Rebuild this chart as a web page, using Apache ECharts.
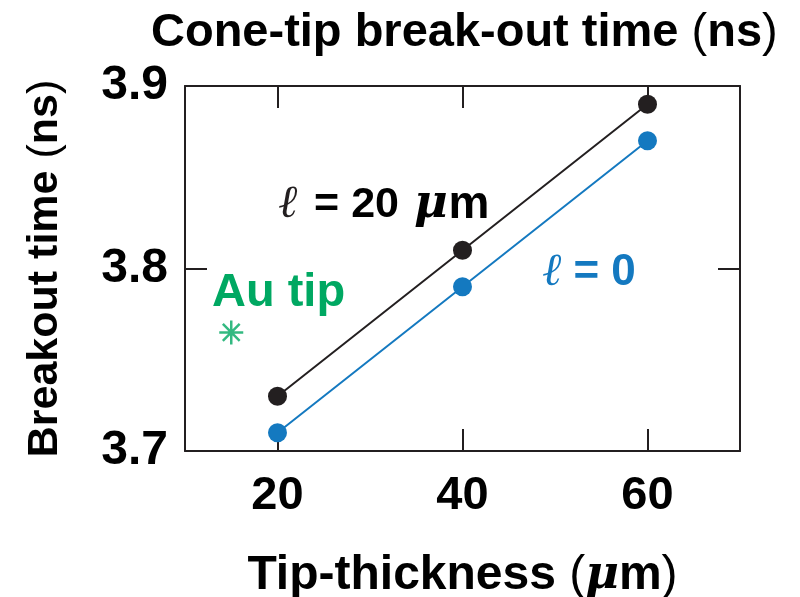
<!DOCTYPE html>
<html>
<head>
<meta charset="utf-8">
<script src="https://cdn.jsdelivr.net/npm/echarts@6/dist/echarts.min.js"></script>
<style>
  html, body { margin: 0; padding: 0; background: #fff; }
  #chart { width: 800px; height: 597px; }
</style>
</head>
<body>
<div id="chart"></div>
<script>
// Tip thickness (µm) and breakout times (ns)
const thickness = [20, 40, 60];
const breakoutL20 = [3.73, 3.81, 3.89];   // ℓ = 20 µm
const breakoutL0 = [3.71, 3.79, 3.87];    // ℓ = 0
const auTip = [[15, 3.765]];              // Au tip reference point
const xTicks = [20, 40, 60];
const yTicks = [3.7, 3.8, 3.9];

const INK = '#231f20';
const BLUE = '#1479c0';
const GREEN = '#00a862';
const SANS = "'Liberation Sans', Arial, Helvetica, sans-serif";
const SERIF = "'DejaVu Serif', 'Liberation Serif', serif";

const chart = echarts.init(document.getElementById('chart'), null, { renderer: 'canvas' });

const frameLine = { show: true, lineStyle: { color: INK, width: 2 } };
const tickStyle = { show: true, inside: true, length: 22, lineStyle: { color: INK, width: 2 } };

const pair = (xs, ys) => xs.map((x, i) => [x, ys[i]]);

const option = {
  animation: false,
  backgroundColor: '#fff',
  title: {
    text: '{b|Cone-tip break-out time }{p|(}{b|ns}{p|)}',
    left: 146,
    top: 5,
    textStyle: {
      rich: {
        b: { fontFamily: SANS, fontWeight: 'bold', fontSize: 47, color: '#000' },
        p: { fontFamily: SANS, fontWeight: 'normal', fontSize: 47, color: '#000' }
      }
    }
  },
  grid: { left: 185, right: 60, top: 86, bottom: 146, outerBoundsMode: 'none', containLabel: false },
  xAxis: [
    {
      type: 'value', position: 'bottom', min: 10, max: 70,
      splitLine: { show: false },
      axisLine: frameLine,
      axisTick: Object.assign({ customValues: xTicks }, tickStyle),
      axisLabel: {
        customValues: xTicks, margin: 22,
        fontFamily: SANS, fontWeight: 'bold', fontSize: 47, color: '#000'
      },
      name: '{b|Tip-thickness }{p|(}{m|μ}{b|m}{p|)}',
      nameLocation: 'middle',
      nameGap: 101,
      nameTextStyle: {
        rich: {
          b: { fontFamily: SANS, fontWeight: 'bold', fontSize: 48, color: '#000' },
          p: { fontFamily: SANS, fontWeight: 'normal', fontSize: 48, color: '#000' },
          m: { fontFamily: SERIF, fontStyle: 'italic', fontWeight: 'bold', fontSize: 46, color: '#000' }
        }
      }
    },
    {
      type: 'value', position: 'top', min: 10, max: 70,
      splitLine: { show: false },
      axisLine: frameLine,
      axisTick: Object.assign({ customValues: xTicks }, tickStyle),
      axisLabel: { show: false }
    }
  ],
  yAxis: [
    {
      type: 'value', position: 'left', min: 3.7, max: 3.9, interval: 0.1,
      splitLine: { show: false },
      axisLine: frameLine,
      axisTick: tickStyle,
      axisLabel: {
        margin: 17,
        formatter: v => v.toFixed(1),
        fontFamily: SANS, fontWeight: 'bold', fontSize: 48, color: '#000'
      },
      name: '{b|Breakout time }{p|(}{b|ns}{p|)}',
      nameLocation: 'middle',
      nameRotate: 90,
      nameGap: 118,
      nameTextStyle: {
        rich: {
          b: { fontFamily: SANS, fontWeight: 'bold', fontSize: 43, color: '#000' },
          p: { fontFamily: SANS, fontWeight: 'normal', fontSize: 43, color: '#000' }
        }
      }
    },
    {
      type: 'value', position: 'right', min: 3.7, max: 3.9, interval: 0.1,
      splitLine: { show: false },
      axisLine: frameLine,
      axisTick: tickStyle,
      axisLabel: { show: false }
    }
  ],
  series: [
    {
      name: 'ℓ = 20 µm',
      type: 'line',
      data: pair(thickness, breakoutL20),
      symbol: 'circle', symbolSize: 19,
      lineStyle: { color: INK, width: 2 },
      itemStyle: { color: INK },
      z: 3
    },
    {
      name: 'ℓ = 0',
      type: 'line',
      data: pair(thickness, breakoutL0),
      symbol: 'circle', symbolSize: 19,
      lineStyle: { color: BLUE, width: 2 },
      itemStyle: { color: BLUE },
      z: 3
    },
    {
      name: 'Au tip',
      type: 'scatter',
      data: auTip,
      symbol: 'path://M10,0L10,20M0,10L20,10M3,3L17,17M3,17L17,3',
      symbolSize: 24,
      itemStyle: { color: 'none', borderColor: GREEN, borderWidth: 2.5 },
      z: 3
    }
  ],
  graphic: [
    {
      type: 'text', left: 278, top: 182,
      style: {
        text: '{l|ℓ}{t| = 20 }{m|μ}{u|m}',
        rich: {
          l: { fontFamily: SERIF, fontStyle: 'italic', fontSize: 46, fill: INK, padding: [0, 5, 0, 0] },
          t: { fontFamily: SANS, fontWeight: 'bold', fontSize: 43, fill: '#000' },
          m: { fontFamily: SERIF, fontStyle: 'italic', fontWeight: 'bold', fontSize: 46, fill: '#000', padding: [0, 1, 0, 3] },
          u: { fontFamily: SANS, fontWeight: 'bold', fontSize: 46, fill: '#000' }
        }
      }
    },
    {
      type: 'text', left: 542, top: 250,
      style: {
        text: '{l|ℓ}{t| = 0}',
        rich: {
          l: { fontFamily: SERIF, fontStyle: 'italic', fontSize: 46, fill: BLUE },
          t: { fontFamily: SANS, fontWeight: 'bold', fontSize: 44, fill: BLUE }
        }
      }
    },
    {
      type: 'text', left: 212, top: 270,
      style: {
        text: 'Au tip',
        fontFamily: SANS, fontWeight: 'bold', fontSize: 47, fill: GREEN
      }
    }
  ]
};

chart.setOption(option);
</script>
</body>
</html>
